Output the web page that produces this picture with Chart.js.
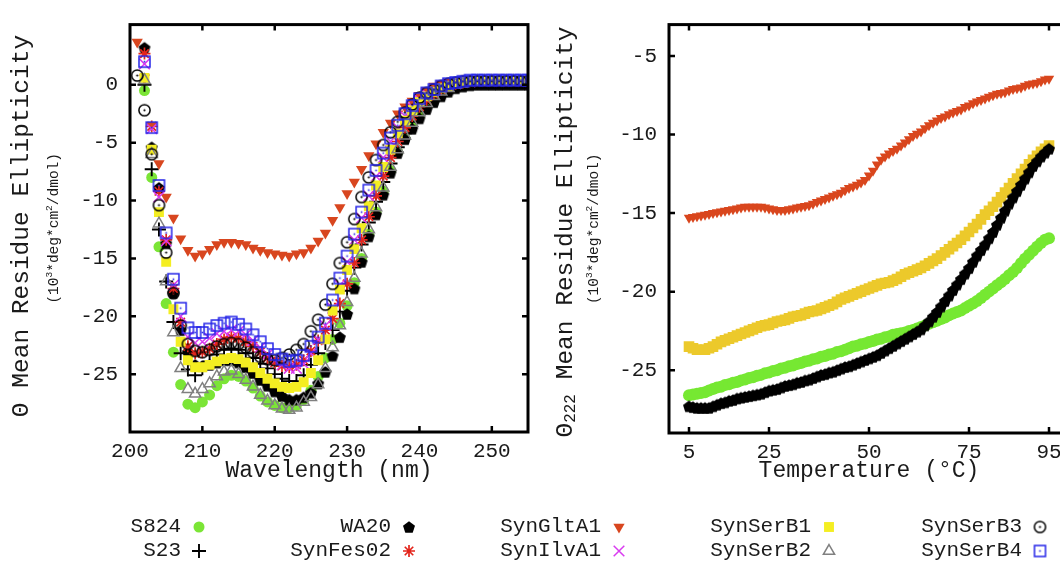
<!DOCTYPE html>
<html>
<head>
<meta charset="utf-8">
<script src="https://cdn.jsdelivr.net/npm/chart.js@4.4.0/dist/chart.umd.min.js"></script>
<style>
  html, body { margin: 0; padding: 0; background: #fff; }
  body { width: 1060px; height: 563px; overflow: hidden; position: relative; }
  #cdChart { position: absolute; left: 0; top: 0; }
  #meltChart { position: absolute; left: 550px; top: 0; }
  #legendMarks { position: absolute; left: 0; top: 505px; }
  .key { position: absolute; width: 160px; text-align: right; font: 21px "Liberation Mono", monospace;
         color: #1a1a1a; line-height: 24px; white-space: pre; }
</style>
</head>
<body>
<canvas id="cdChart" width="545" height="500"></canvas>
<canvas id="meltChart" width="530" height="500"></canvas>
<canvas id="legendMarks" width="1060" height="58"></canvas>
<div id="legend"></div>
<script>
// ---- left panel: CD spectra, one point per nm ----
const wavelength = [201, 202, 203, 204, 205, 206, 207, 208, 209, 210,
  211, 212, 213, 214, 215, 216, 217, 218, 219, 220,
  221, 222, 223, 224, 225, 226, 227, 228, 229, 230,
  231, 232, 233, 234, 235, 236, 237, 238, 239, 240,
  241, 242, 243, 244, 245, 246, 247, 248, 249, 250,
  251, 252, 253, 254, 255];

const cdS824 = [null, -0.5, -8.0, -14.0, -18.9, -23.1, -25.9, -27.6, -27.9, -27.4,
  -26.8, -26.0, -25.4, -25.1, -25.2, -25.6, -26.2, -26.9, -27.4, -27.7,
  -27.9, -27.9, -27.7, -27.2, -26.4, -25.2, -23.6, -22.0, -20.6, -19.1,
  -17.1, -15.0, -12.9, -11.0, -9.2, -7.4, -5.8, -4.6, -3.5, -2.6,
  -1.8, -1.2, -0.7, -0.3, 0.0, 0.15, 0.25, 0.3, 0.35, 0.35,
  0.4, 0.4, 0.4, 0.4, 0.4];
const cdS23 = [null, 0.0, -7.3, -12.5, -17.0, -20.5, -23.2, -24.6, -25.1, -24.5,
  -23.9, -23.3, -22.9, -22.8, -22.9, -23.2, -23.6, -24.1, -24.5, -25.0,
  -25.4, -25.6, -25.6, -25.1, -24.2, -23.2, -22.3, -21.2, -19.6, -17.8,
  -15.8, -13.8, -11.9, -10.1, -8.4, -6.8, -5.4, -4.2, -3.2, -2.3,
  -1.6, -1.0, -0.6, -0.3, -0.1, 0.1, 0.15, 0.2, 0.25, 0.25,
  0.25, 0.25, 0.25, 0.25, 0.25];
const cdWA20 = [null, 3.2, -5.4, -8.9, -13.7, -18.0, -21.2, -23.1, -24.2, -24.3,
  -24.2, -24.0, -23.8, -23.8, -24.0, -24.4, -24.9, -25.5, -26.0, -26.5,
  -26.9, -27.2, -27.2, -27.0, -26.6, -25.8, -24.8, -23.4, -21.8, -19.8,
  -17.6, -15.3, -13.1, -11.2, -9.5, -7.6, -5.9, -4.7, -3.8, -2.9,
  -2.1, -1.5, -1.0, -0.6, -0.3, -0.15, -0.05, 0.0, 0.0, 0.0,
  0.0, 0.0, 0.0, 0.0, 0.0];
const cdSynFes02 = [null, 2.7, -3.6, -9.2, -13.4, -17.6, -20.5, -22.6, -23.2, -23.1,
  -22.8, -22.4, -22.0, -21.8, -21.9, -22.2, -22.6, -23.1, -23.6, -24.0,
  -24.3, -24.4, -24.2, -23.8, -23.0, -22.1, -21.2, -20.2, -18.9, -17.2,
  -15.4, -13.4, -11.4, -9.6, -7.9, -6.3, -4.9, -3.7, -2.7, -1.9,
  -1.3, -0.8, -0.4, -0.1, 0.1, 0.2, 0.3, 0.35, 0.35, 0.35,
  0.35, 0.35, 0.35, 0.35, 0.35];
const cdSynGltA1 = [3.7, 0.6, -3.5, -6.8, -9.7, -11.5, -13.3, -14.3, -14.8, -14.6,
  -14.2, -13.8, -13.6, -13.6, -13.7, -13.8, -14.1, -14.3, -14.5, -14.6,
  -14.7, -14.8, -14.6, -14.5, -14.1, -13.5, -12.8, -11.7, -10.6, -9.4,
  -8.4, -7.3, -6.1, -5.1, -4.1, -3.3, -2.5, -1.9, -1.4, -0.9,
  -0.5, -0.1, 0.1, 0.25, 0.3, 0.35, 0.4, 0.45, 0.45, 0.45,
  0.45, 0.45, 0.45, 0.45, 0.45];
const cdSynIlvA1 = [null, 1.8, -3.8, -9.7, -13.5, -17.3, -20.0, -21.8, -22.3, -22.2,
  -21.9, -21.5, -21.3, -21.2, -21.3, -21.6, -22.1, -22.7, -23.3, -23.8,
  -24.2, -24.5, -24.5, -24.1, -23.2, -22.0, -20.8, -19.3, -17.3, -15.3,
  -13.4, -11.5, -9.6, -7.9, -6.3, -4.9, -3.7, -2.7, -1.9, -1.3,
  -0.8, -0.5, -0.2, 0.0, 0.1, 0.2, 0.25, 0.3, 0.3, 0.3,
  0.3, 0.3, 0.3, 0.3, 0.3];
const cdSynSerB1 = [null, 0.6, -5.6, -11.0, -15.3, -19.4, -22.2, -23.8, -24.4, -24.4,
  -24.2, -23.9, -23.7, -23.6, -23.7, -24.0, -24.4, -24.9, -25.4, -25.8,
  -26.1, -26.2, -26.1, -25.7, -24.9, -23.8, -22.0, -19.5, -17.7, -16.0,
  -14.2, -12.4, -10.5, -8.7, -7.1, -5.6, -4.2, -3.1, -2.2, -1.5,
  -1.0, -0.6, -0.3, -0.1, 0.1, 0.2, 0.25, 0.3, 0.3, 0.3,
  0.3, 0.3, 0.3, 0.3, 0.3];
const cdSynSerB2 = [null, 0.4, -6.0, -12.0, -17.0, -21.4, -24.5, -26.3, -26.7, -26.3,
  -25.8, -25.2, -24.8, -24.7, -25.0, -25.5, -26.1, -26.8, -27.3, -27.7,
  -28.0, -28.1, -27.9, -27.4, -27.0, -25.9, -24.5, -22.7, -20.8, -18.8,
  -16.7, -14.6, -12.5, -10.6, -8.9, -7.1, -5.6, -4.4, -3.3, -2.4,
  -1.6, -1.0, -0.6, -0.3, 0.0, 0.1, 0.2, 0.3, 0.3, 0.3,
  0.3, 0.3, 0.3, 0.3, 0.3];
const cdSynSerB3 = [0.8, -2.2, -6.0, -10.4, -14.5, -18.0, -20.8, -22.4, -23.0, -23.1,
  -22.9, -22.6, -22.4, -22.3, -22.4, -22.7, -23.1, -23.5, -23.7, -23.8,
  -23.6, -23.3, -22.9, -22.4, -21.3, -20.3, -19.0, -17.2, -15.4, -13.6,
  -11.6, -9.7, -8.0, -6.5, -5.2, -4.1, -3.2, -2.4, -1.7, -1.1,
  -0.7, -0.4, -0.1, 0.1, 0.2, 0.3, 0.3, 0.3, 0.3, 0.3,
  0.3, 0.3, 0.3, 0.3, 0.3];
const cdSynSerB4 = [null, 2.0, -3.7, -8.7, -12.8, -16.8, -19.3, -21.0, -21.4, -21.4,
  -21.1, -20.8, -20.6, -20.5, -20.7, -21.1, -21.6, -22.2, -22.8, -23.3,
  -23.7, -23.9, -23.8, -23.4, -22.6, -21.8, -20.6, -18.6, -16.7, -14.8,
  -12.9, -11.0, -9.1, -7.4, -5.9, -4.6, -3.5, -2.5, -1.8, -1.2,
  -0.7, -0.4, -0.1, 0.1, 0.2, 0.3, 0.4, 0.4, 0.4, 0.4,
  0.4, 0.4, 0.4, 0.4, 0.4];

const cdXTicks = [200, 210, 220, 230, 240, 250];
const cdYTicks = [-25, -20, -15, -10, -5, 0];

// ---- right panel: thermal melt at 222 nm, one reading per degC ----
const temperature = [5, 6, 7, 8, 9, 10, 11, 12, 13, 14,
  15, 16, 17, 18, 19, 20, 21, 22, 23, 24,
  25, 26, 27, 28, 29, 30, 31, 32, 33, 34,
  35, 36, 37, 38, 39, 40, 41, 42, 43, 44,
  45, 46, 47, 48, 49, 50, 51, 52, 53, 54,
  55, 56, 57, 58, 59, 60, 61, 62, 63, 64,
  65, 66, 67, 68, 69, 70, 71, 72, 73, 74,
  75, 76, 77, 78, 79, 80, 81, 82, 83, 84,
  85, 86, 87, 88, 89, 90, 91, 92, 93, 94,
  95];

const meltSynGltA1 = [-15.3, -15.25, -15.2, -15.15, -15.1, -15.05, -15.0, -14.95, -14.9, -14.85,
  -14.8, -14.75, -14.7, -14.65, -14.6, -14.6, -14.6, -14.6, -14.6, -14.65,
  -14.7, -14.75, -14.8, -14.8, -14.8, -14.75, -14.7, -14.65, -14.6, -14.55,
  -14.5, -14.4, -14.3, -14.2, -14.1, -14.0, -13.9, -13.8, -13.7, -13.55,
  -13.4, -13.3, -13.2, -13.05, -12.9, -12.6, -12.3, -11.9, -11.6, -11.4,
  -11.2, -11.05, -10.9, -10.7, -10.5, -10.3, -10.1, -9.95, -9.8, -9.6,
  -9.4, -9.25, -9.1, -8.95, -8.85, -8.7, -8.6, -8.5, -8.4, -8.25,
  -8.15, -8.0, -7.9, -7.8, -7.7, -7.6, -7.5, -7.4, -7.35, -7.3,
  -7.2, -7.1, -7.05, -7.0, -6.9, -6.8, -6.75, -6.7, -6.6, -6.5,
  -6.45];
const meltSynSerB1 = [-23.5, -23.6, -23.7, -23.7, -23.7, -23.6, -23.5, -23.35, -23.2, -23.1,
  -23.0, -22.9, -22.8, -22.7, -22.6, -22.5, -22.4, -22.3, -22.2, -22.15,
  -22.1, -22.0, -21.9, -21.85, -21.8, -21.7, -21.6, -21.55, -21.5, -21.4,
  -21.3, -21.25, -21.2, -21.1, -21.0, -20.9, -20.8, -20.65, -20.5, -20.4,
  -20.3, -20.2, -20.1, -20.0, -19.9, -19.8, -19.7, -19.6, -19.5, -19.45,
  -19.4, -19.3, -19.2, -19.05, -18.9, -18.8, -18.7, -18.6, -18.5, -18.35,
  -18.2, -18.05, -17.9, -17.7, -17.5, -17.3, -17.1, -16.9, -16.7, -16.45,
  -16.2, -15.95, -15.7, -15.4, -15.1, -14.85, -14.6, -14.3, -14.0, -13.7,
  -13.4, -13.1, -12.8, -12.5, -12.2, -11.9, -11.6, -11.35, -11.1, -10.9,
  -10.7];
const meltS824 = [-26.6, -26.55, -26.5, -26.45, -26.4, -26.3, -26.2, -26.1, -26.05, -25.95,
  -25.9, -25.8, -25.75, -25.65, -25.6, -25.5, -25.45, -25.35, -25.3, -25.2,
  -25.15, -25.05, -25.0, -24.9, -24.85, -24.75, -24.7, -24.6, -24.55, -24.45,
  -24.4, -24.3, -24.25, -24.15, -24.1, -24.0, -23.95, -23.85, -23.8, -23.7,
  -23.6, -23.5, -23.45, -23.35, -23.3, -23.2, -23.15, -23.05, -23.0, -22.9,
  -22.85, -22.75, -22.7, -22.65, -22.6, -22.5, -22.45, -22.35, -22.25, -22.15,
  -22.05, -21.95, -21.85, -21.75, -21.65, -21.5, -21.4, -21.3, -21.2, -21.05,
  -20.9, -20.75, -20.6, -20.4, -20.2, -20.0, -19.8, -19.6, -19.4, -19.2,
  -18.95, -18.75, -18.5, -18.2, -17.9, -17.65, -17.4, -17.15, -16.9, -16.7,
  -16.6];
const meltWA20 = [-27.3, -27.35, -27.4, -27.4, -27.4, -27.4, -27.3, -27.2, -27.1, -27.05,
  -26.95, -26.9, -26.8, -26.75, -26.7, -26.65, -26.6, -26.55, -26.5, -26.4,
  -26.3, -26.25, -26.2, -26.1, -26.0, -25.95, -25.9, -25.8, -25.75, -25.65,
  -25.6, -25.5, -25.4, -25.3, -25.25, -25.15, -25.1, -25.0, -24.9, -24.8,
  -24.75, -24.65, -24.55, -24.45, -24.35, -24.25, -24.15, -24.05, -23.9, -23.75,
  -23.6, -23.45, -23.3, -23.15, -23.0, -22.85, -22.7, -22.55, -22.4, -22.15,
  -21.9, -21.6, -21.3, -20.95, -20.6, -20.25, -19.9, -19.55, -19.2, -18.85,
  -18.5, -18.1, -17.7, -17.35, -17.0, -16.6, -16.2, -15.75, -15.3, -14.85,
  -14.4, -14.0, -13.6, -13.2, -12.8, -12.4, -12.0, -11.7, -11.4, -11.15,
  -10.9];

const meltXTicks = [5, 25, 50, 75, 95];
const meltYTicks = [-25, -20, -15, -10, -5];

// ---- marker glyphs that Chart.js has no built-in style for ----
function makeMarker(size, draw) {
  const c = document.createElement("canvas");
  c.width = size;
  c.height = size;
  draw(c.getContext("2d"), size / 2);
  return c;
}
const pentagon = makeMarker(14, (g, m) => {
  g.fillStyle = "#000";
  g.beginPath();
  for (let i = 0; i < 5; i++) {
    const a = -Math.PI / 2 + i * 2 * Math.PI / 5;
    g.lineTo(m + 6.3 * Math.cos(a), m + 0.6 + 6.3 * Math.sin(a));
  }
  g.closePath();
  g.fill();
});
const circleDot = makeMarker(15, (g, m) => {
  g.strokeStyle = "#000";
  g.lineWidth = 1.5;
  g.beginPath();
  g.arc(m, m, 5.6, 0, Math.PI * 2);
  g.stroke();
  g.fillStyle = "#000";
  g.beginPath();
  g.arc(m, m, 1.1, 0, Math.PI * 2);
  g.fill();
});
const squareDot = makeMarker(15, (g, m) => {
  g.strokeStyle = "#2424e8";
  g.lineWidth = 1.5;
  g.strokeRect(m - 5.5, m - 5.5, 11, 11);
  g.fillStyle = "#2424e8";
  g.fillRect(m - 0.8, m - 0.8, 1.6, 1.6);
});

const styles = {
  S824:     { pointStyle: "circle", radius: 5.5, backgroundColor: "#7be536", borderColor: "#7be536", borderWidth: 0 },
  S23:      { pointStyle: "cross", radius: 7, backgroundColor: "#000", borderColor: "#000", borderWidth: 1.9 },
  WA20:     { pointStyle: pentagon, radius: 6, backgroundColor: "#000", borderColor: "#000", borderWidth: 0 },
  SynFes02: { pointStyle: "star", radius: 6, backgroundColor: "#e3251c", borderColor: "#e3251c", borderWidth: 1.7 },
  SynGltA1: { pointStyle: "triangle", rotation: 180, radius: 6.5, backgroundColor: "#d8461f", borderColor: "#d8461f", borderWidth: 0 },
  SynIlvA1: { pointStyle: "crossRot", radius: 7.5, backgroundColor: "#d93bf0", borderColor: "#d93bf0", borderWidth: 1.5 },
  SynSerB1: { pointStyle: "rect", radius: 7, backgroundColor: "#f4ee22", borderColor: "#f4ee22", borderWidth: 0 },
  SynSerB2: { pointStyle: "triangle", radius: 6.5, backgroundColor: "rgba(0,0,0,0)", borderColor: "#808080", borderWidth: 1.5 },
  SynSerB3: { pointStyle: circleDot, radius: 6, backgroundColor: "#000", borderColor: "#000", borderWidth: 0 },
  SynSerB4: { pointStyle: squareDot, radius: 6, backgroundColor: "#2424e8", borderColor: "#2424e8", borderWidth: 0 }
};

function series(name, xs, ys, extra) {
  const s = styles[name];
  const points = [];
  xs.forEach((x, i) => { if (ys[i] !== null) points.push({ x: x, y: ys[i] }); });
  return Object.assign({
    label: name,
    data: points,
    showLine: false,
    pointStyle: s.pointStyle,
    pointRotation: s.rotation || 0,
    pointRadius: s.radius,
    pointBackgroundColor: s.backgroundColor,
    pointBorderColor: s.borderColor,
    pointBorderWidth: s.borderWidth
  }, extra || {});
}

const tickFont = { family: "'Liberation Mono', monospace", size: 21 };
const ink = "#1a1a1a";

function drawRotated(ctx, cx, cy, parts) {
  ctx.save();
  ctx.translate(cx, cy);
  ctx.rotate(-Math.PI / 2);
  ctx.textBaseline = "middle";
  ctx.textAlign = "left";
  ctx.fillStyle = ink;
  let total = 0;
  parts.forEach(p => { ctx.font = p.font; p.w = ctx.measureText(p.text).width; total += p.w; });
  let x = -total / 2;
  parts.forEach(p => { ctx.font = p.font; ctx.fillText(p.text, x, p.dy || 0); x += p.w; });
  ctx.restore();
}

// frame, inward mirrored ticks, and axis titles
const framePlugin = {
  id: "frame",
  afterDatasetsDraw(chart, args, opts) {
    const { ctx, chartArea: a, scales: { x, y } } = chart;
    ctx.save();
    ctx.strokeStyle = "#000";
    ctx.lineWidth = 2.5;
    ctx.beginPath();
    x.ticks.forEach(t => {
      const px = x.getPixelForValue(t.value);
      if (px <= a.left + 3 || px >= a.right - 3) return;
      ctx.moveTo(px, a.bottom); ctx.lineTo(px, a.bottom - 6);
      ctx.moveTo(px, a.top); ctx.lineTo(px, a.top + 6);
    });
    y.ticks.forEach(t => {
      const py = y.getPixelForValue(t.value);
      if (py <= a.top + 3 || py >= a.bottom - 3) return;
      ctx.moveTo(a.left, py); ctx.lineTo(a.left + 6, py);
      ctx.moveTo(a.right, py); ctx.lineTo(a.right - 6, py);
    });
    ctx.stroke();
    ctx.lineWidth = 3;
    ctx.strokeRect(a.left, a.top, a.right - a.left, a.bottom - a.top);

    ctx.fillStyle = ink;
    ctx.font = "23px 'Liberation Mono', monospace";
    ctx.textAlign = "center";
    ctx.textBaseline = "middle";
    ctx.fillText(opts.xTitle, (a.left + a.right) / 2, 471);

    const cy = (a.top + a.bottom) / 2;
    drawRotated(ctx, opts.titleX, opts.titleY || cy, opts.yTitle);
    drawRotated(ctx, opts.subX, opts.subY || cy, [
      { text: "(10", font: "14.5px 'Liberation Mono', monospace" },
      { text: "3", font: "9.5px 'Liberation Mono', monospace", dy: -5 },
      { text: "*deg*cm", font: "14.5px 'Liberation Mono', monospace" },
      { text: "2", font: "9.5px 'Liberation Mono', monospace", dy: -5 },
      { text: "/dmol)", font: "14.5px 'Liberation Mono', monospace" }
    ]);
    ctx.restore();
  }
};

function axes(xMin, xMax, xTicks, yMin, yMax, yTicks, yWidth, xHeight) {
  return {
    x: {
      type: "linear", min: xMin, max: xMax,
      grid: { display: false, drawTicks: false }, border: { display: false },
      ticks: { font: tickFont, color: ink, padding: 7, maxRotation: 0, autoSkip: false },
      afterBuildTicks: s => { s.ticks = xTicks.map(v => ({ value: v })); },
      afterFit: s => { s.height = xHeight; }
    },
    y: {
      type: "linear", min: yMin, max: yMax,
      grid: { display: false, drawTicks: false }, border: { display: false },
      ticks: { font: tickFont, color: ink, padding: 12, autoSkip: false },
      afterBuildTicks: s => { s.ticks = yTicks.map(v => ({ value: v })); },
      afterFit: s => { s.width = yWidth; }
    }
  };
}

// later datasets in gnuplot sit on top; Chart.js draws index 0 last, so reverse
const cdDatasets = [
  series("S824", wavelength, cdS824),
  series("S23", wavelength, cdS23),
  series("WA20", wavelength, cdWA20),
  series("SynFes02", wavelength, cdSynFes02),
  series("SynGltA1", wavelength, cdSynGltA1),
  series("SynIlvA1", wavelength, cdSynIlvA1),
  series("SynSerB1", wavelength, cdSynSerB1),
  series("SynSerB2", wavelength, cdSynSerB2),
  series("SynSerB3", wavelength, cdSynSerB3),
  series("SynSerB4", wavelength, cdSynSerB4)
].reverse();

new Chart(document.getElementById("cdChart"), {
  type: "scatter",
  data: { datasets: cdDatasets },
  options: {
    responsive: false,
    animation: false,
    layout: { padding: { top: 15, right: 17, left: 0, bottom: 0 } },
    plugins: {
      legend: { display: false },
      tooltip: { enabled: false },
      frame: {
        xTitle: "Wavelength (nm)",
        titleX: 22, subX: 54, titleY: 226,
        yTitle: [{ text: "\u0398 Mean Residue Ellipticity", font: "24.5px 'Liberation Mono', monospace" }]
      }
    },
    scales: axes(200, 255, cdXTicks, -30, 5.2, cdYTicks, 130, 68)
  },
  plugins: [framePlugin]
});

const meltDatasets = [
  series("SynGltA1", temperature, meltSynGltA1, { pointRadius: 6, pointBackgroundColor: "#d9461d", pointBorderColor: "#d9461d" }),
  series("SynSerB1", temperature, meltSynSerB1, { pointRadius: 7.5, pointBackgroundColor: "#ecc92b", pointBorderColor: "#ecc92b" }),
  series("S824", temperature, meltS824, { pointRadius: 6, pointBackgroundColor: "#76e832", pointBorderColor: "#76e832" }),
  series("WA20", temperature, meltWA20)
].reverse();

new Chart(document.getElementById("meltChart"), {
  type: "scatter",
  data: { datasets: meltDatasets },
  options: {
    responsive: false,
    animation: false,
    layout: { padding: { top: 15, right: 11, left: 0, bottom: 0 } },
    plugins: {
      legend: { display: false },
      tooltip: { enabled: false },
      frame: {
        xTitle: "Temperature (\u00b0C)",
        titleX: 16, subX: 44, titleY: 232,
        yTitle: [
          { text: "\u0398", font: "24.5px 'Liberation Mono', monospace" },
          { text: "222", font: "16px 'Liberation Mono', monospace", dy: 5 },
          { text: " Mean Residue Ellipticity", font: "24.5px 'Liberation Mono', monospace" }
        ]
      }
    },
    scales: axes(0, 100, meltXTicks, -29, -3, meltYTicks, 119, 67)
  },
  plugins: [framePlugin]
});

// ---- key: gnuplot style, right-justified text followed by the sample ----
const keyEntries = [
  { name: "S824", col: 0, row: 0 },
  { name: "S23", col: 0, row: 1 },
  { name: "WA20", col: 1, row: 0 },
  { name: "SynFes02", col: 1, row: 1 },
  { name: "SynGltA1", col: 2, row: 0 },
  { name: "SynIlvA1", col: 2, row: 1 },
  { name: "SynSerB1", col: 3, row: 0 },
  { name: "SynSerB2", col: 3, row: 1 },
  { name: "SynSerB3", col: 4, row: 0 },
  { name: "SynSerB4", col: 4, row: 1 }
];
const keyTextEnds = [181, 391, 601, 811, 1022];
const keySampleGap = 18;
const keyRows = [527, 551];

const legendEl = document.getElementById("legend");
const lctx = document.getElementById("legendMarks").getContext("2d");
keyEntries.forEach(k => {
  const end = keyTextEnds[k.col];
  const div = document.createElement("div");
  div.className = "key";
  div.textContent = k.name;
  div.style.left = (end - 160) + "px";
  div.style.top = (keyRows[k.row] - 12) + "px";
  legendEl.appendChild(div);

  const s = styles[k.name];
  lctx.save();
  lctx.fillStyle = s.backgroundColor;
  lctx.strokeStyle = s.borderColor;
  lctx.lineWidth = s.borderWidth;
  Chart.helpers.drawPoint(lctx, {
    pointStyle: s.pointStyle, radius: s.radius, rotation: s.rotation || 0, borderWidth: s.borderWidth
  }, end + keySampleGap, keyRows[k.row] - 505);
  lctx.restore();
});
</script>
</body>
</html>
